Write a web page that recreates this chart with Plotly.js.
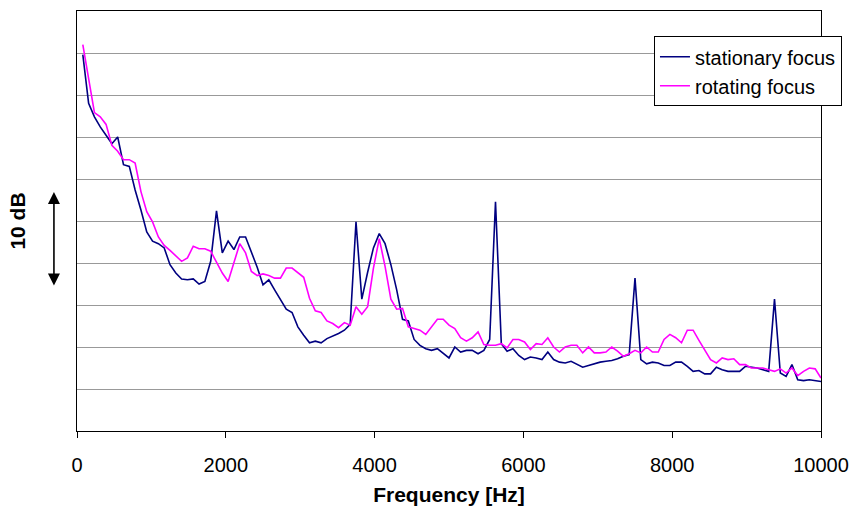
<!DOCTYPE html>
<html>
<head>
<meta charset="utf-8">
<script src="https://cdn.plot.ly/plotly-3.0.1.min.js"></script>
<style>html,body{margin:0;padding:0;background:#fff;}#chart{width:854px;height:514px;}</style>
</head>
<body>
<div id="chart"></div>
<script>
// Frequency bins [Hz]
const frequency = [78.125,156.25,234.375,312.5,390.625,468.75,546.875,625,703.125,781.25,
859.375,937.5,1015.625,1093.75,1171.875,1250,1328.125,1406.25,1484.375,1562.5,
1640.625,1718.75,1796.875,1875,1953.125,2031.25,2109.375,2187.5,2265.625,2343.75,
2421.875,2500,2578.125,2656.25,2734.375,2812.5,2890.625,2968.75,3046.875,3125,
3203.125,3281.25,3359.375,3437.5,3515.625,3593.75,3671.875,3750,3828.125,3906.25,
3984.375,4062.5,4140.625,4218.75,4296.875,4375,4453.125,4531.25,4609.375,4687.5,
4765.625,4843.75,4921.875,5000,5078.125,5156.25,5234.375,5312.5,5390.625,5468.75,
5546.875,5625,5703.125,5781.25,5859.375,5937.5,6015.625,6093.75,6171.875,6250,
6328.125,6406.25,6484.375,6562.5,6640.625,6718.75,6796.875,6875,6953.125,7031.25,
7109.375,7187.5,7265.625,7343.75,7421.875,7500,7578.125,7656.25,7734.375,7812.5,
7890.625,7968.75,8046.875,8125,8203.125,8281.25,8359.375,8437.5,8515.625,8593.75,
8671.875,8750,8828.125,8906.25,8984.375,9062.5,9140.625,9218.75,9296.875,9375,
9453.125,9531.25,9609.375,9687.5,9765.625,9843.75,9921.875,10000];

// Relative level [dB] (arbitrary reference; grid every 5 dB)
const stationaryFocus = [44.8,39.0,37.4,36.2,35.2,34.2,35.0,31.7,31.5,28.7,
26.3,23.7,22.6,22.3,21.8,19.8,18.8,18.1,18.0,18.1,
17.5,17.8,20.2,26.2,21.2,22.6,21.6,23.1,23.1,21.3,
19.5,17.4,18.0,16.8,15.6,14.5,14.1,12.4,11.4,10.5,
10.7,10.5,11.0,11.3,11.6,12.0,12.7,24.9,15.7,18.9,
21.8,23.5,22.3,19.8,16.8,13.3,13.1,10.9,10.2,9.8,
9.6,9.8,9.3,8.7,10.0,9.4,9.6,9.6,9.2,9.6,
10.9,27.3,10.4,9.5,9.8,9.0,8.5,8.8,8.7,8.5,
9.4,8.5,8.2,8.1,8.3,7.9,7.6,7.8,8.0,8.2,
8.3,8.4,8.6,8.9,9.1,18.2,8.5,8.0,8.2,8.1,
7.8,7.8,8.2,8.2,7.7,7.1,7.2,6.8,6.8,7.6,
7.3,7.1,7.1,7.1,7.7,7.6,7.5,7.3,7.1,15.7,
6.9,6.5,7.9,6.1,6.0,6.1,6.0,5.9];

const rotatingFocus = [46.0,41.8,37.9,37.4,36.5,34.0,33.3,32.3,32.3,31.9,
28.5,26.1,24.9,23.1,22.1,21.5,20.8,20.2,20.6,22.0,
21.7,21.7,21.4,20.0,18.8,17.8,20.2,22.3,21.2,19.0,
18.5,18.7,18.5,18.2,18.2,19.4,19.4,18.8,18.3,15.8,
14.3,14.1,13.1,12.8,12.3,12.9,12.6,14.8,13.9,14.8,
19.4,22.9,19.6,15.7,14.5,14.6,12.4,12.2,12.0,11.5,
12.4,13.3,13.3,12.6,12.2,11.1,10.7,11.1,11.8,10.3,
10.2,10.2,10.4,9.9,10.9,10.9,10.6,9.7,10.4,10.3,
11.1,10.0,9.4,10.0,10.2,10.2,9.3,10.0,9.3,9.3,
9.4,10.0,9.5,8.9,9.2,9.6,9.3,10.0,9.4,9.4,
10.9,11.5,11.1,10.5,12.0,12.0,10.8,9.6,8.5,8.1,
8.7,8.5,8.6,7.9,7.9,7.5,7.5,7.5,7.3,7.1,
7.4,6.9,7.5,6.6,7.1,7.5,7.4,6.3];

const seriesNames = ['stationary focus', 'rotating focus'];
const xTicks = [0, 2000, 4000, 6000, 8000, 10000];

const FONT = 'Liberation Sans, Arial, sans-serif';

const traces = [
  {x: frequency, y: stationaryFocus, name: seriesNames[0], type: 'scatter', mode: 'lines',
   line: {color: '#000080', width: 1.6}},
  {x: frequency, y: rotatingFocus, name: seriesNames[1], type: 'scatter', mode: 'lines',
   line: {color: '#FF00FF', width: 1.6}}
];

const layout = {
  width: 854, height: 514,
  margin: {l: 77, r: 33, t: 11, b: 83, pad: 0},
  paper_bgcolor: '#ffffff', plot_bgcolor: '#ffffff',
  font: {family: FONT, color: '#000000', size: 20},
  showlegend: true,
  xaxis: {
    range: [0, 10000], tickvals: xTicks, ticktext: xTicks.map(String),
    ticks: 'outside', ticklen: 6, tickwidth: 1, tickcolor: '#000',
    showline: true, linecolor: '#000', linewidth: 1.2, mirror: true,
    showgrid: false, zeroline: false,
    tickfont: {family: FONT, size: 20, color: '#000'},
    ticklabelstandoff: 10,
    title: {text: 'Frequency [Hz]', font: {family: FONT, size: 21, color: '#000', weight: 'bold'}, standoff: 12}
  },
  yaxis: {
    range: [0, 50], dtick: 5, tick0: 0,
    showticklabels: false, ticks: '',
    showline: true, linecolor: '#000', linewidth: 1.2, mirror: true,
    showgrid: true, gridcolor: '#999999', gridwidth: 1, zeroline: false,
    title: {text: '10 dB', font: {family: FONT, size: 21, color: '#000', weight: 'bold'}, standoff: 44}
  },
  legend: {
    x: 0.7755, y: 0.94, xanchor: 'left', yanchor: 'top',
    bgcolor: '#ffffff', bordercolor: '#000000', borderwidth: 1,
    font: {family: FONT, size: 20, color: '#000'}
  },
  annotations: [{
    xref: 'paper', yref: 'paper', x: -0.031, y: 0.569,
    ax: 0, ay: 95, axref: 'pixel', ayref: 'pixel',
    text: '', showarrow: true, arrowside: 'end+start',
    arrowhead: 2, arrowsize: 1.5, arrowwidth: 1.6, arrowcolor: '#000',
    standoff: 0, startstandoff: 0
  }]
};

Plotly.newPlot('chart', traces, layout, {displayModeBar: false, staticPlot: true});
</script>
</body>
</html>
